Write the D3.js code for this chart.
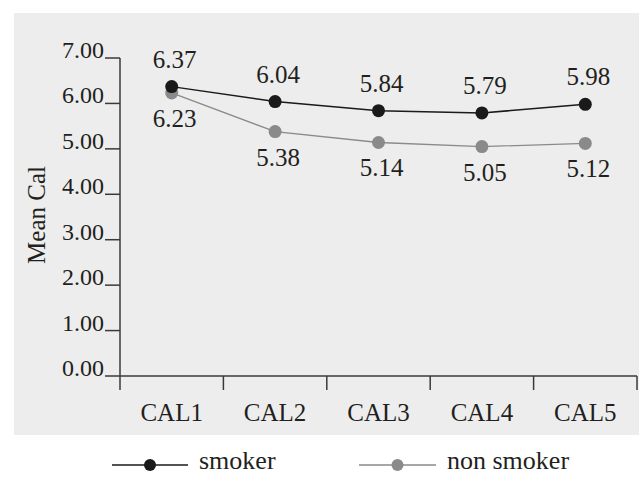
<!DOCTYPE html>
<html><head><meta charset="utf-8">
<script src="https://cdn.jsdelivr.net/npm/d3@7"></script>
<style>body{margin:0;background:#fff}svg{display:block}</style>
</head><body>
<svg id="c" width="639" height="478" font-family="'Liberation Serif','Times New Roman',serif"></svg>
<script>
const categories = ["CAL1","CAL2","CAL3","CAL4","CAL5"];
const smoker = [6.37, 6.04, 5.84, 5.79, 5.98];
const nonSmoker = [6.23, 5.38, 5.14, 5.05, 5.12];
const yTicks = [0,1,2,3,4,5,6,7];
const seriesNames = ["smoker","non smoker"];

const svg = d3.select("#c");
svg.append("rect").attr("x",14).attr("y",13).attr("width",625).attr("height",422).attr("fill","#ededed");

const x = d3.scaleBand().domain(categories).range([120,637]);
const y = d3.scaleLinear().domain([0,7]).range([376,58]);
const fs = 25;
const tc = "#231f20";

// y axis
const ya = svg.append("g");
ya.append("line").attr("x1",120).attr("x2",120).attr("y1",y(7)).attr("y2",y(0)).attr("stroke","#3a3a3a").attr("stroke-width",1.5);
yTicks.forEach(t=>{
  ya.append("line").attr("x1",105).attr("x2",120).attr("y1",y(t)).attr("y2",y(t)).attr("stroke","#3a3a3a").attr("stroke-width",1.5);
  ya.append("text").attr("x",104).attr("y",y(t)).attr("text-anchor","end").attr("font-size",24).attr("fill",tc).text(t.toFixed(2));
});
// x axis
const xa = svg.append("g");
xa.append("line").attr("x1",120).attr("x2",637).attr("y1",y(0)).attr("y2",y(0)).attr("stroke","#3a3a3a").attr("stroke-width",1.5);
const bounds = categories.map(c=>x(c)).concat([x.range()[1]]);
bounds.forEach(b=>{
  xa.append("line").attr("x1",b).attr("x2",b).attr("y1",y(0)).attr("y2",y(0)+14).attr("stroke","#3a3a3a").attr("stroke-width",1.5);
});
categories.forEach(c=>{
  xa.append("text").attr("x",x(c)+x.bandwidth()/2).attr("y",421).attr("text-anchor","middle").attr("font-size",fs).attr("fill",tc).text(c);
});
// y title
svg.append("text").attr("transform","translate(45,215) rotate(-90)").attr("text-anchor","middle").attr("font-size",fs).attr("fill",tc).text("Mean Cal");

const cx = c=>x(c)+x.bandwidth()/2;
const line = d3.line().x((d,i)=>cx(categories[i])).y(d=>y(d));

function series(vals,color,w,labelDy){
  svg.append("path").datum(vals).attr("d",line).attr("fill","none").attr("stroke",color).attr("stroke-width",w);
  svg.selectAll(null).data(vals).enter().append("circle").attr("cx",(d,i)=>cx(categories[i])).attr("cy",d=>y(d)).attr("r",6.5).attr("fill",color);
  svg.selectAll(null).data(vals).enter().append("text").attr("x",(d,i)=>cx(categories[i])+3).attr("y",d=>y(d)+labelDy).attr("text-anchor","middle").attr("font-size",fs).attr("fill",tc).text(d=>d.toFixed(2));
}
series(nonSmoker,"#8a8a8a",1.3,34);
series(smoker,"#1a1a1a",1.5,-19);

// legend
const leg = [{name:seriesNames[0],color:"#1a1a1a",x1:112,x2:188,tx:199},{name:seriesNames[1],color:"#8a8a8a",x1:359,x2:436,tx:447}];
leg.forEach(l=>{
  svg.append("line").attr("x1",l.x1).attr("x2",l.x2).attr("y1",465).attr("y2",465).attr("stroke",l.color).attr("stroke-width",1.5);
  svg.append("circle").attr("cx",(l.x1+l.x2)/2).attr("cy",465).attr("r",6).attr("fill",l.color);
  svg.append("text").attr("x",l.tx).attr("y",469).attr("font-size",26).attr("fill",tc).text(l.name);
});
</script>
</body></html>
